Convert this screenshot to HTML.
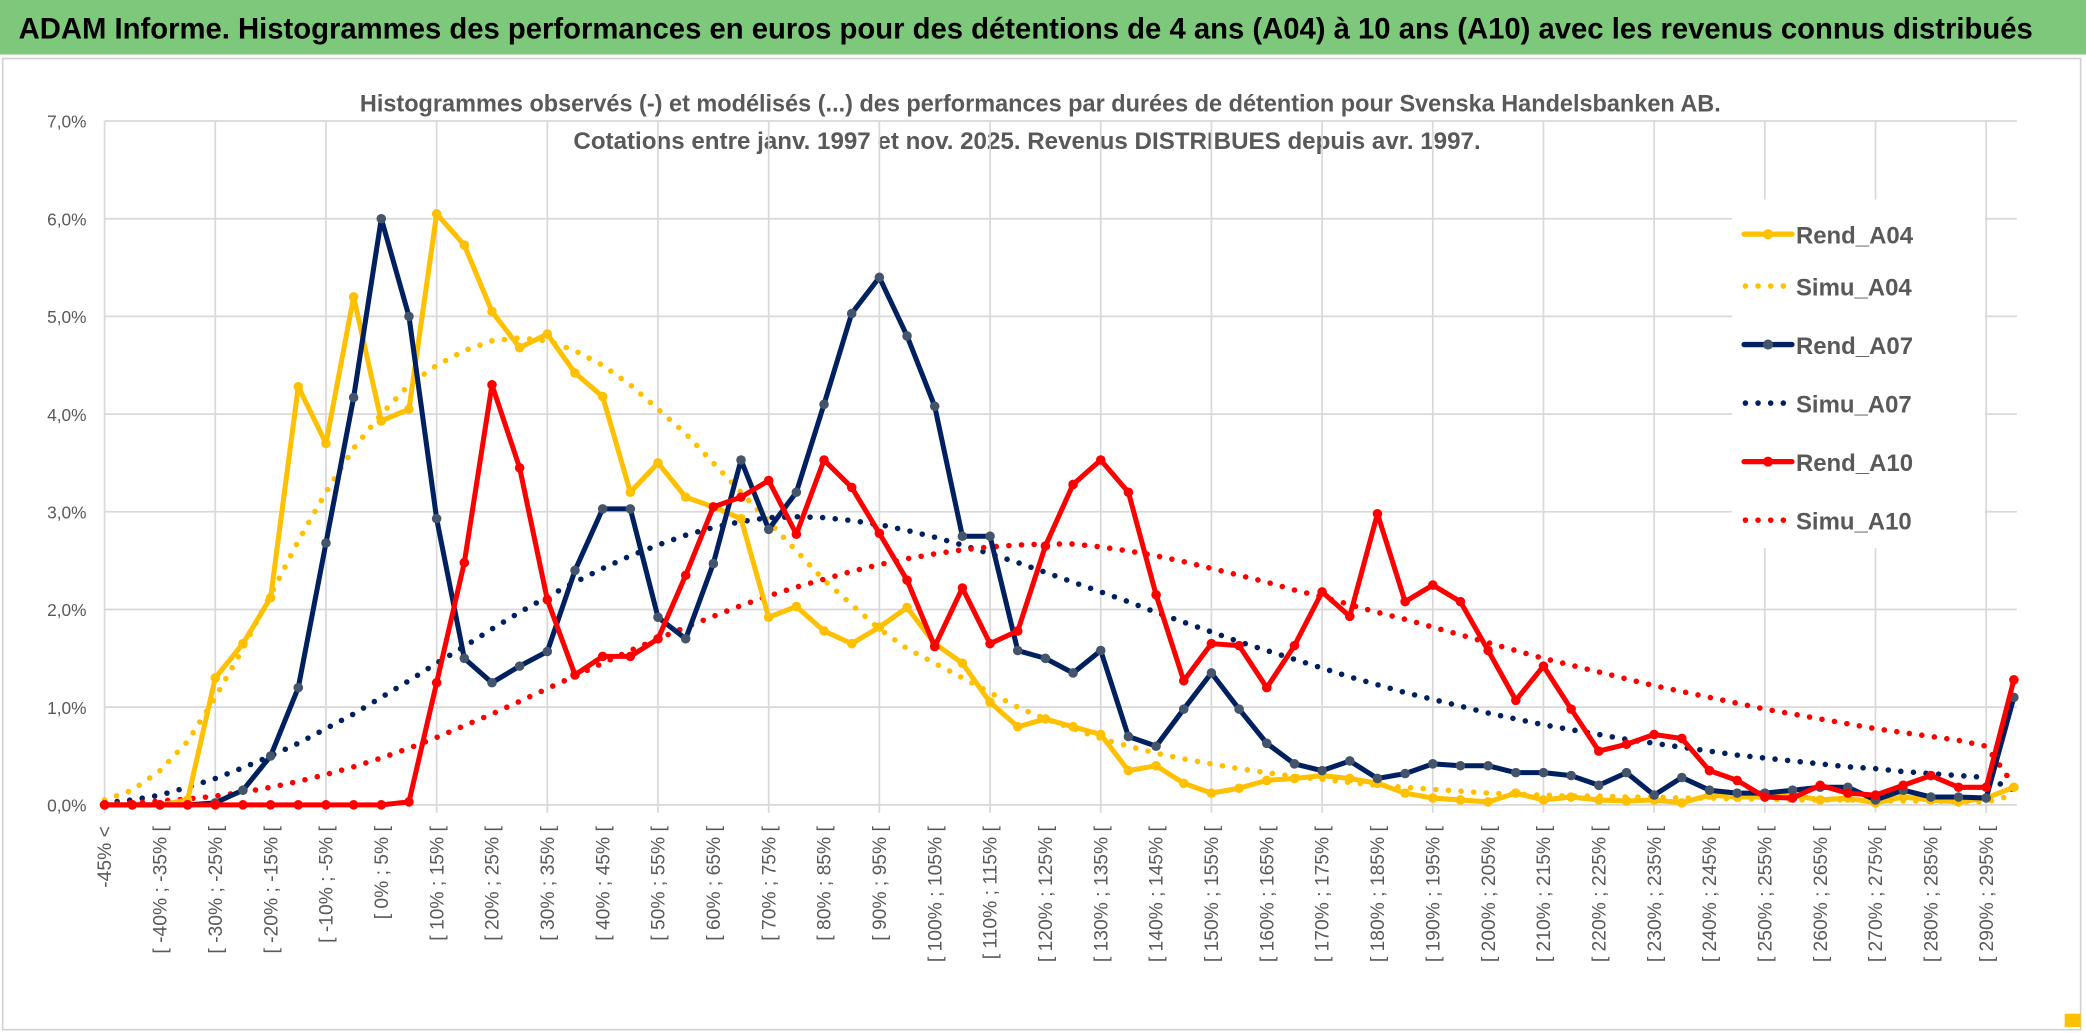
<!DOCTYPE html>
<html><head><meta charset="utf-8"><style>
html,body{margin:0;padding:0;background:#fff;}
svg{display:block;font-family:"Liberation Sans",sans-serif;}
</style></head><body>
<svg id="chart" width="2086" height="1033" viewBox="0 0 1568 776.5" xmlns="http://www.w3.org/2000/svg">
<rect x="0" y="0" width="1568" height="776.5" fill="#fff"/>
<rect x="0" y="0" width="1568" height="41" fill="#7dc87a"/>
<text x="14" y="29" font-size="22" font-weight="bold" fill="#000" textLength="1514" lengthAdjust="spacingAndGlyphs">ADAM Informe. Histogrammes des performances en euros pour des détentions de 4 ans (A04) à 10 ans (A10) avec les revenus connus distribués</text>
<rect x="2" y="44" width="1562" height="730" fill="none" stroke="#d0d0d0" stroke-width="1.2"/>
<rect x="1552" y="762" width="12" height="10" fill="#ffc000"/>
<text x="782" y="84" text-anchor="middle" font-size="18" font-weight="bold" fill="#595959" textLength="1023" lengthAdjust="spacingAndGlyphs">Histogrammes observés (-) et modélisés (...) des performances par durées de détention pour Svenska Handelsbanken AB.</text>
<text x="772" y="112" text-anchor="middle" font-size="18" font-weight="bold" fill="#595959" textLength="682" lengthAdjust="spacingAndGlyphs">Cotations entre janv. 1997 et nov. 2025. Revenus DISTRIBUES depuis avr. 1997.</text>
<g id="grid"></g>
<g id="axes"></g>
<g id="series"></g>
<g id="legend"></g>
</svg>
<script>
const categories = (function(){const a=['-45% <'];for(let i=1;i<70;i++){const lo=-45+5*(i-1);a.push('[ '+lo+'% ; '+(lo+5)+'% [');}return a;})();
const yTicks = [0,1,2,3,4,5,6,7];
const yTickLabels = ['0,0%','1,0%','2,0%','3,0%','4,0%','5,0%','6,0%','7,0%'];
const rendA04 = [0,0,0,0.05,1.3,1.65,2.12,4.28,3.7,5.2,3.93,4.05,6.05,5.73,5.05,4.68,4.82,4.42,4.18,3.2,3.5,3.15,3.05,2.93,1.92,2.03,1.78,1.65,1.82,2.02,1.65,1.45,1.05,0.8,0.88,0.8,0.72,0.35,0.4,0.22,0.12,0.17,0.25,0.27,0.3,0.27,0.22,0.12,0.07,0.05,0.03,0.12,0.05,0.08,0.05,0.04,0.05,0.02,0.1,0.08,0.08,0.1,0.05,0.07,0.02,0.08,0.05,0.03,0.07,0.18];
const simuA04 = [0.05,0.15,0.35,0.65,1.1,1.6,2.15,2.7,3.2,3.65,4.0,4.3,4.5,4.65,4.75,4.78,4.75,4.65,4.5,4.3,4.05,3.8,3.5,3.2,2.9,2.6,2.3,2.05,1.8,1.6,1.45,1.3,1.15,1.0,0.88,0.78,0.68,0.6,0.53,0.47,0.42,0.37,0.33,0.29,0.26,0.23,0.2,0.18,0.16,0.14,0.12,0.11,0.1,0.09,0.09,0.08,0.08,0.07,0.07,0.06,0.06,0.05,0.05,0.05,0.04,0.04,0.04,0.03,0.03,0.1];
const rendA07 = [0,0,0,0,0.02,0.15,0.5,1.2,2.68,4.17,6.0,5.0,2.93,1.5,1.25,1.42,1.57,2.4,3.03,3.03,1.92,1.7,2.47,3.53,2.82,3.2,4.1,5.03,5.4,4.8,4.08,2.75,2.75,1.58,1.5,1.35,1.58,0.7,0.6,0.98,1.35,0.98,0.63,0.42,0.35,0.45,0.27,0.32,0.42,0.4,0.4,0.33,0.33,0.3,0.2,0.33,0.1,0.28,0.15,0.12,0.12,0.15,0.18,0.18,0.05,0.15,0.08,0.08,0.07,1.1];
const simuA07 = [0.02,0.05,0.1,0.18,0.27,0.38,0.5,0.63,0.78,0.93,1.1,1.27,1.45,1.62,1.8,1.97,2.13,2.28,2.42,2.55,2.66,2.76,2.84,2.9,2.94,2.95,2.94,2.91,2.87,2.81,2.74,2.66,2.57,2.48,2.38,2.28,2.18,2.08,1.97,1.87,1.77,1.67,1.58,1.49,1.4,1.31,1.23,1.15,1.08,1.01,0.94,0.88,0.82,0.77,0.72,0.67,0.63,0.59,0.55,0.51,0.48,0.45,0.42,0.39,0.37,0.34,0.32,0.3,0.28,0.15];
const rendA10 = [0,0,0,0,0,0,0,0,0,0,0,0.03,1.25,2.48,4.3,3.45,2.1,1.33,1.52,1.52,1.7,2.35,3.05,3.15,3.32,2.77,3.53,3.25,2.78,2.3,1.62,2.22,1.65,1.78,2.65,3.28,3.53,3.2,2.15,1.27,1.65,1.63,1.2,1.63,2.18,1.93,2.98,2.08,2.25,2.08,1.58,1.07,1.42,0.98,0.55,0.62,0.72,0.68,0.35,0.25,0.08,0.07,0.2,0.12,0.1,0.2,0.3,0.18,0.18,1.28];
const simuA10 = [0.01,0.02,0.04,0.06,0.09,0.13,0.18,0.24,0.31,0.39,0.48,0.58,0.69,0.81,0.93,1.06,1.19,1.32,1.45,1.58,1.7,1.82,1.93,2.04,2.14,2.23,2.31,2.39,2.46,2.52,2.57,2.61,2.64,2.66,2.67,2.67,2.64,2.6,2.55,2.49,2.42,2.35,2.28,2.2,2.13,2.05,1.97,1.9,1.82,1.74,1.66,1.58,1.5,1.43,1.36,1.29,1.22,1.16,1.1,1.04,0.98,0.93,0.88,0.83,0.78,0.74,0.7,0.66,0.6,0.2];

const NS='http://www.w3.org/2000/svg';
const X0=78.6, DX=20.8, Y0=605, DY=73.43, XR=1516;
function xs(i){return X0+DX*i;}
function ys(v){return Y0-DY*v;}
function mk(tag,attrs,parent){const e=document.createElementNS(NS,tag);for(const k in attrs)e.setAttribute(k,attrs[k]);parent.appendChild(e);return e;}
const grid=document.getElementById('grid'), axes=document.getElementById('axes'), ser=document.getElementById('series'), leg=document.getElementById('legend');

yTicks.forEach((t,k)=>{
  const l=mk('line',{x1:X0,x2:XR,y1:ys(t),y2:ys(t),stroke:'#d9d9d9','stroke-width':1.3},grid);
  
  
  const tx=mk('text',{x:65,y:ys(t)+5,'text-anchor':'end','font-size':13,fill:'#595959'},axes);
  
  
  tx.textContent=yTickLabels[k];
});
for(let i=0;i<categories.length;i+=4){
  const l=mk('line',{x1:xs(i),x2:xs(i),y1:ys(7),y2:Y0+6,stroke:'#d9d9d9','stroke-width':1.3},grid);
  
  
}
categories.forEach((c,i)=>{
  if(i%2) return;
  const x=xs(i)+5, y=621;
  const tx=mk('text',{x:x,y:y,'text-anchor':'end','font-size':14.5,fill:'#595959',transform:'rotate(-90 '+x+' '+y+')'},axes);
  
  
  tx.textContent=c;
});

function pts(arr){return arr.map((v,i)=>xs(i).toFixed(1)+','+ys(v).toFixed(1)).join(' ');}
function dotted(arr,color,name){
  const p=mk('polyline',{points:pts(arr),fill:'none',stroke:color,'stroke-width':4.2,'stroke-linecap':'round','stroke-dasharray':'0 9.5'},ser);
  
  
}
function solid(arr,color,mcolor,name){
  const g=mk('g',{},ser);
  
  
  mk('polyline',{points:pts(arr),fill:'none',stroke:color,'stroke-width':3.8,'stroke-linejoin':'round'},g);
  arr.forEach((v,i)=>{
    const c=mk('circle',{cx:xs(i),cy:ys(v),r:3.6,fill:mcolor},g);
    
    
  });
}
dotted(simuA04,'#ffc000','simu-a04-line');
dotted(simuA07,'#002060','simu-a07-line');
dotted(simuA10,'#ff0000','simu-a10-line');
solid(rendA04,'#ffc000','#ffc000','rend-a04-line');
solid(rendA07,'#002060','#44546a','rend-a07-line');
solid(rendA10,'#ff0000','#ff0000','rend-a10-line');

mk('rect',{x:1302,y:150,width:190,height:262,fill:'#fff'},leg);
const legItems=[['Rend_A04','#ffc000','#ffc000',false],['Simu_A04','#ffc000',null,true],['Rend_A07','#002060','#44546a',false],['Simu_A07','#002060',null,true],['Rend_A10','#ff0000','#ff0000',false],['Simu_A10','#ff0000',null,true]];
const legY=[176,215,259,303,347,391];
legItems.forEach((it,k)=>{
  const g=mk('g',{},leg);
  
  
  const y=legY[k];
  if(it[3]){mk('line',{x1:1312,x2:1345,y1:y,y2:y,stroke:it[1],'stroke-width':4.2,'stroke-linecap':'round','stroke-dasharray':'0 9.5'},g);}
  else{mk('line',{x1:1311,x2:1347,y1:y,y2:y,stroke:it[1],'stroke-width':4,'stroke-linecap':'round'},g);mk('circle',{cx:1329,cy:y,r:3.8,fill:it[2]},g);}
  const t=mk('text',{x:1350,y:y+7,'font-size':18,'font-weight':'bold',fill:'#595959'},g);
  t.textContent=it[0];
});
</script>
</body></html>
